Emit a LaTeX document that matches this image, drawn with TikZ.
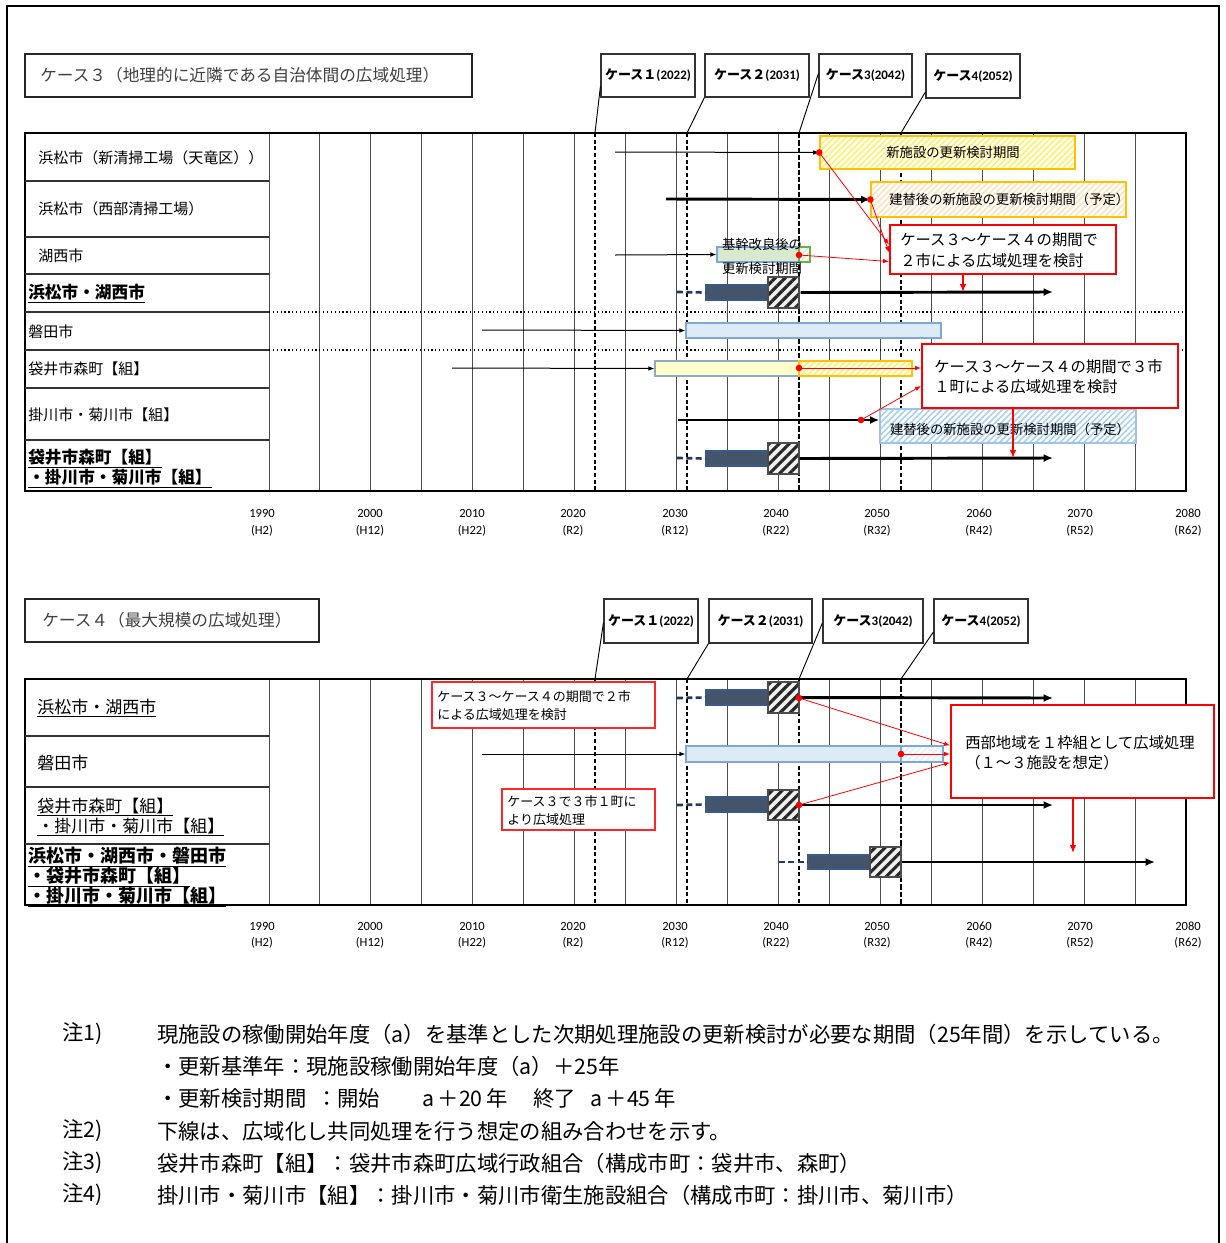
\documentclass[tikz,border=0pt]{standalone}
\usepackage{fontspec}
\setmainfont{Noto Sans CJK JP}
\newfontfamily\calfont{Carlito}
\usetikzlibrary{patterns.meta,fit,arrows.meta,calc}
\newcommand\fsz[2]{\fontsize{#1}{#2}\selectfont}
\definecolor{darkbar}{HTML}{44546A}
\definecolor{barborder}{HTML}{3A5A8C}
\definecolor{navy}{HTML}{1F3864}
\definecolor{ltblue}{HTML}{DDEBF7}
\definecolor{ltblueb}{HTML}{7EA6D8}
\definecolor{ltyel}{HTML}{FFFFCC}
\definecolor{ltyelb}{HTML}{8EA9C8}
\definecolor{ybord}{HTML}{FFC000}
\definecolor{ystripe}{HTML}{FFF066}
\definecolor{ostripe}{HTML}{FCE3C0}
\definecolor{bstripe}{HTML}{A9D0EE}
\definecolor{bbord}{HTML}{9DC3E6}
\definecolor{grfill}{HTML}{D8E9CE}
\definecolor{grbord}{HTML}{70AD47}
\definecolor{hdrtext}{HTML}{404040}
\begin{document}
\begin{tikzpicture}[x=0.75pt,y=-0.75pt,
  gridln/.style={line width=0.75pt, draw=black!70},
  tbl/.style={line width=0.9pt, draw=black},
  casedash/.style={line width=0.9pt, dash pattern=on 3pt off 2pt},
  casedashb/.style={line width=1.4pt, dash pattern=on 4pt off 1.5pt},
  hdrbox/.style={draw=black!85, line width=1.3pt, inner sep=0pt, fill=white},
  casebox/.style={draw=black!80, line width=0.9pt, inner sep=0pt, fill=white},
  casetxt/.style={inner sep=0pt, font=\fsz{9.75}{11}\bfseries},
  leader/.style={line width=0.7pt},
  thinarr/.style={line width=0.75pt, -{Latex[length=4.5pt,width=3.5pt]}},
  thickarr/.style={line width=2.2pt, -{Latex[length=7pt,width=6pt]}},
  redarr/.style={line width=0.6pt, draw=red, -{Latex[length=4.5pt,width=3.5pt]}},
  redthick/.style={line width=1.9pt, draw=red, -{Latex[length=6pt,width=5pt]}},
  navydash/.style={line width=2pt, draw=navy, dash pattern=on 4.5pt off 2.5pt},
  dbar/.style={fill=darkbar, draw=barborder, line width=0.8pt, inner sep=0pt},
  hatchbox/.style={inner sep=0pt, draw=black!70, line width=0.8pt, preaction={fill=gray!12}, pattern={Lines[angle=45,distance=5.3pt,line width=2.3pt]}, pattern color=black!85},
  yhatch/.style={inner sep=0pt, draw=ybord, line width=1pt, preaction={fill=white}, pattern={Lines[angle=45,distance=3.2pt,line width=1.2pt]}, pattern color=ystripe},
  ohatch/.style={inner sep=0pt, draw=ybord, line width=1pt, preaction={fill=white}, pattern={Lines[angle=45,distance=3.2pt,line width=1.2pt]}, pattern color=ostripe},
  bhatch/.style={inner sep=0pt, draw=bbord, line width=1pt, preaction={fill=white}, pattern={Lines[angle=45,distance=3.2pt,line width=1.2pt]}, pattern color=bstripe},
  lbhatch/.style={inner sep=0pt, draw=ltblueb, line width=0.9pt, preaction={fill=ltblue!60}, pattern={Lines[angle=45,distance=3.2pt,line width=1.0pt]}, pattern color=white},
  ghatch/.style={inner sep=0pt, draw=grbord, line width=0.9pt, preaction={fill=white}, pattern={Lines[angle=45,distance=3.2pt,line width=1.0pt]}, pattern color=grfill},
  ltbluebox/.style={inner sep=0pt, fill=ltblue, draw=ltblueb, line width=0.9pt},
  ltyelbox/.style={inner sep=0pt, fill=ltyel, draw=ltyelb, line width=0.9pt},
  grbox/.style={inner sep=0pt, fill=grfill, draw=ltblueb, line width=0.9pt},
  redbox/.style={draw=red, line width=1.5pt, fill=white, inner sep=0pt},
  redsmall/.style={draw=red!85, line width=0.9pt, fill=white, inner sep=0pt},
  barlab/.style={font=\fsz{10}{12}, inner sep=0pt},
  rowlab/.style={anchor=west, inner sep=0pt, font=\fsz{11.25}{14}, align=left},
  rowlabb/.style={anchor=west, inner sep=0pt, font=\fsz{12.5}{13.5}\bfseries, align=left},
  rowlabc/.style={anchor=west, inner sep=0pt, font=\fsz{12.75}{15}, align=left},
  rowlabd/.style={anchor=west, inner sep=0pt, font=\fsz{13.5}{15}\bfseries, align=left},
  yrlab/.style={inner sep=0pt, font=\calfont\fsz{9.4}{11}},
  notetxt/.style={anchor=west, inner sep=0pt, font=\fsz{16}{18}},
]
\useasboundingbox (0,0) rectangle (1226,1243);
\fill[white] (0,0) rectangle (1226,1243);
% outer frame
\draw[line width=1.5pt] (7,1243) -- (7,6) -- (1219,6) -- (1219,1243);

% ================= TOP CHART =================
\foreach \i in {0,...,18} {
  \pgfmathsetmacro\gx{269+\i*50.9444}
  \draw[gridln] (\gx,133) -- (\gx,491);
  \draw[gridln] (\gx,679) -- (\gx,905);
}
\draw[tbl] (25,133) rectangle (1186,491);
\foreach \yy in {181,237,274,312,350,388,440} \draw[line width=0.9pt, draw=black!80] (25,\yy) -- (269,\yy);
\draw[line width=0.9pt, dotted] (269,312) -- (1186,312);
\draw[line width=0.9pt, dotted] (269,350) -- (1186,350);

% case dashed lines (top)
\coordinate (k1t) at (595,133); \coordinate (k1b) at (595,491);
\coordinate (k2t) at (687,133); \coordinate (k2b) at (687,491);
\coordinate (k3t) at (799,133); \coordinate (k3b) at (799,491);
\coordinate (k4t) at (901,133); \coordinate (k4b) at (901,491);
\draw[casedash] (k1t) -- (k1b);
\draw[casedash] (k2t) -- (k2b);
\draw[casedashb] (k3t) -- (k3b);
\draw[casedash] (k4t) -- (k4b);

% header and case boxes (top)
\node[hdrbox, fit={(25,54)(472,97)}] (h3) {};
\node[anchor=west, inner sep=0pt, font=\fsz{12.5}{14}, text=hdrtext] (h3t) at (40,75.5) {ケース３（地理的に近隣である自治体間の広域処理）};
\node[casebox, fit={(601,54)(695,97)}] (c1) {};
\node[casebox, fit={(705,54)(809,97)}] (c2) {};
\node[casebox, fit={(819,54)(912,97)}] (c3) {};
\node[casebox, fit={(926,54)(1020,98)}] (c4) {};
\node[casetxt] (c1t) at (c1.center) {ケース１\calfont(2022)};
\node[casetxt] (c2t) at (c2.center) {ケース２\calfont(2031)};
\node[casetxt] (c3t) at (c3.center) {ケース\calfont 3(2042)};
\node[casetxt] (c4t) at (c4.center) {ケース\calfont 4(2052)};
\draw[leader] ($(c1.west)+(0,11)$) -- (k1t);
\draw[leader] (c2.south west) -- (k2t);
\draw[leader] ($(c3.west)+(0,-2)$) -- (k3t);
\draw[leader] ($(c4.west)+(0,16)$) -- (k4t);

% row labels (top)
\node[rowlab] (l1) at (38,158) {浜松市（新清掃工場（天竜区））};
\node[rowlab] (l2) at (38,209) {浜松市（西部清掃工場）};
\node[rowlab] (l3) at (38,256) {湖西市};
\node[rowlabb] (l4) at (28,294) {\underline{浜松市・湖西市}};
\node[rowlab] (l5) at (28,332) {磐田市};
\node[rowlab] (l6) at (28,369) {袋井市森町【組】};
\node[rowlab] (l7) at (28,415) {掛川市・菊川市【組】};
\node[rowlabb] (l8) at (28,469) {\underline{袋井市森町【組】}\\\underline{・掛川市・菊川市【組】}};

% row 1
\coordinate (a1s) at (615,152);
\node[yhatch, fit={(820,136)(1075,169)}] (y1) {};
\node[barlab] (y1t) at (953,152.5) {新施設の更新検討期間};
\draw[thinarr] (a1s) -- (y1.west);
% row 2
\coordinate (a2s) at (666,199);
\node[ohatch, fit={(871,182)(1126,217)}] (o2) {};
\node[barlab, anchor=west] (o2t) at (889,199) {建替後の新施設の更新検討期間（予定）};
\draw[thickarr] (a2s) -- (o2.west);
% row 3
\coordinate (a3s) at (615,255);
\node[grbox, fit={(717,247)(799,262)}] (g3) {};
\node[ghatch, fit={(799,247)(810,262)}] (g3h) {};
\draw[thinarr] (a3s) -- (g3.west);
\node[barlab] (g3a) at (762,244) {基幹改良後の};
\node[barlab] (g3b) at (762,268) {更新検討期間};
% row 4
\node[dbar, fit={(706,285)(768,300)}] (d4) {};
\node[hatchbox, fit={(768,277)(799,308)}] (h4) {};
\coordinate (d4s) at (677,292);
\coordinate (d4e) at (1053,292);
\draw[navydash] (d4s) -- (d4.west);
\draw[thickarr] (h4.east) -- (d4e);
% row 5
\coordinate (a5s) at (482,330);
\node[ltbluebox, fit={(686,323)(941,338)}] (lb5) {};
\draw[thinarr] (a5s) -- (lb5.west);
% row 6
\coordinate (a6s) at (452,368);
\node[ltyelbox, fit={(655,361)(799,376)}] (ly6) {};
\node[yhatch, fit={(799,361)(912,376)}] (yh6) {};
\draw[thinarr] (a6s) -- (ly6.west);
% row 7
\coordinate (a7s) at (678,420);
\node[bhatch, fit={(880,409)(1136,443)}] (bh7) {};
\node[barlab] (bh7t) at (1010,429) {建替後の新施設の更新検討期間（予定）};
\draw[thickarr] (a7s) -- (a7s -| bh7.west);
\coordinate (p7) at (861,420);
% row 8
\node[dbar, fit={(706,451)(768,466)}] (d8) {};
\node[hatchbox, fit={(768,443)(799,474)}] (h8) {};
\coordinate (d8s) at (677,458);
\coordinate (d8e) at (1053,458);
\draw[navydash] (d8s) -- (d8.west);
\draw[thickarr] (h8.east) -- (d8e);

% red boxes (top)
\node[redbox, fit={(890,225)(1116,274)}] (r1) {};
\node[anchor=west, inner sep=0pt, font=\fsz{11.5}{15.75}, align=left] (r1t) at (900,250) {ケース３～ケース４の期間で\\２市による広域処理を検討};
\node[redbox, fit={(922,344)(1178,408)}] (r2) {};
\node[anchor=west, inner sep=0pt, font=\fsz{11.5}{15}, align=left] (r2t) at (934,377) {ケース３～ケース４の期間で３市\\１町による広域処理を検討};

% red connectors (top)
\coordinate (g3p) at (799,255);
\coordinate (y6p) at (799,368);
\draw[redarr] (y1.west) -- ($(r1.west)+(0,-5)$);
\draw[redarr] (o2.west) -- ($(r1.west)+(0,3)$);
\draw[redarr] (g3p) -- ($(r1.west)+(0,12)$);
\draw[redarr] (y6p) -- ($(r2.west)+(0,-8)$);
\draw[redarr] (p7) -- ($(r2.west)+(0,10)$);
\coordinate (r1e) at (963,292);
\coordinate (r2e) at (1013,458);
\draw[redthick] (r1.south -| r1e) -- (r1e);
\draw[redthick] (r2.south -| r2e) -- (r2e);
\foreach \p in {y1.west,o2.west,g3p,y6p,p7} \fill[red] (\p) circle (3.3);

% year labels
\foreach \yr/\er/\xx [count=\k] in {1990/H2/262,2000/H12/370,2010/H22/472,2020/R2/573,2030/R12/675,2040/R22/776,2050/R32/877,2060/R42/979,2070/R52/1080,2080/R62/1188} {
  \node[yrlab] (ya\k) at (\xx,513) {\yr};
  \node[yrlab] (yb\k) at (\xx,531) {(\er)};
  \node[yrlab] (yc\k) at (\xx,926) {\yr};
  \node[yrlab] (yd\k) at (\xx,943) {(\er)};
}

% ================= BOTTOM CHART =================
\draw[tbl] (25,679) rectangle (1186,905);
\foreach \yy in {736,787,844} \draw[line width=0.9pt, draw=black!80] (25,\yy) -- (269,\yy);

\coordinate (m1t) at (595,679); \coordinate (m1b) at (595,905);
\coordinate (m2t) at (687,679); \coordinate (m2b) at (687,905);
\coordinate (m3t) at (799,679); \coordinate (m3b) at (799,905);
\coordinate (m4t) at (901,679); \coordinate (m4b) at (901,905);
\draw[casedash] (m1t) -- (m1b);
\draw[casedash] (m2t) -- (m2b);
\draw[casedash] (m3t) -- (m3b);
\draw[casedashb] (m4t) -- (m4b);

\node[hdrbox, fit={(25,599)(319,642)}] (h4b) {};
\node[anchor=west, inner sep=0pt, font=\fsz{12.5}{14}, text=hdrtext] (h4bt) at (42,620.5) {ケース４（最大規模の広域処理）};
\node[casebox, fit={(604,599)(698,643)}] (e1) {};
\node[casebox, fit={(709,599)(812,643)}] (e2) {};
\node[casebox, fit={(823,599)(923,643)}] (e3) {};
\node[casebox, fit={(934,599)(1028,643)}] (e4) {};
\node[casetxt] (e1t) at (e1.center) {ケース１\calfont(2022)};
\node[casetxt] (e2t) at (e2.center) {ケース２\calfont(2031)};
\node[casetxt] (e3t) at (e3.center) {ケース\calfont 3(2042)};
\node[casetxt] (e4t) at (e4.center) {ケース\calfont 4(2052)};
\draw[leader] ($(e1.west)+(0,2)$) -- (m1t);
\draw[leader] (e2.south west) -- (m2t);
\draw[leader] ($(e3.west)+(0,2)$) -- (m3t);
\draw[leader] ($(e4.west)+(0,11)$) -- (m4t);

\node[rowlabc] (n1) at (37,708) {\underline{浜松市・湖西市}};
\node[rowlabc] (n2) at (37,763) {磐田市};
\node[rowlabc] (n3) at (37,817) {\underline{袋井市森町【組】}\\\underline{・掛川市・菊川市【組】}};
\node[rowlabd] (n4) at (28,877) {\underline{浜松市・湖西市・磐田市}\\\underline{・袋井市森町【組】}\\\underline{・掛川市・菊川市【組】}};

% small red boxes
\node[redsmall, fit={(432,682)(655,728)}] (s1) {};
\node[anchor=west, inner sep=0pt, font=\fsz{9.75}{13.5}, align=left] (s1t) at (437,706) {ケース３～ケース４の期間で２市\\による広域処理を検討};
\node[redsmall, fit={(502,789)(655,830)}] (s2) {};
\node[anchor=west, inner sep=0pt, font=\fsz{9.75}{13.5}, align=left] (s2t) at (507,811) {ケース３で３市１町に\\より広域処理};

% row 1
\node[dbar, fit={(706,690)(768,705)}] (f1) {};
\node[hatchbox, fit={(768,682)(799,713)}] (fh1) {};
\coordinate (f1s) at (677,698); \coordinate (f1e) at (1053,698);
\draw[navydash] (f1s) -- (f1.west);
\draw[thickarr] (fh1.east) -- (f1e);
% row 2
\coordinate (f2s) at (482,754);
\node[ltbluebox, fit={(686,746)(901,762)}] (f2) {};
\node[lbhatch, fit={(901,746)(943,762)}] (fh2) {};
\draw[thinarr] (f2s) -- (f2.west);
% row 3
\node[dbar, fit={(706,797)(768,812)}] (f3) {};
\node[hatchbox, fit={(768,790)(799,820)}] (fh3) {};
\coordinate (f3s) at (677,805); \coordinate (f3e) at (1053,805);
\draw[navydash] (f3s) -- (f3.west);
\draw[thickarr] (fh3.east) -- (f3e);
% row 4
\node[dbar, fit={(808,855)(870,869)}] (f4) {};
\node[hatchbox, fit={(870,847)(901,877)}] (fh4) {};
\coordinate (f4s) at (779,862); \coordinate (f4e) at (1155,862);
\draw[navydash] (f4s) -- (f4.west);
\draw[thickarr] (fh4.east) -- (f4e);

% big red box (bottom)
\node[redbox, fit={(951,705)(1214,798)}] (r3) {};
\node[anchor=west, inner sep=0pt, font=\fsz{11.5}{15}, align=left] (r3t) at (965,753) {西部地域を１枠組として広域処理\\（１～３施設を想定）};
\coordinate (q1) at (799,698);
\coordinate (q2) at (901,754);
\coordinate (q3) at (799,805);
\draw[redarr] (q1) -- ($(r3.west)+(0,-6)$);
\draw[redarr] (q2) -- ($(r3.west)+(0,2.5)$);
\draw[redarr] (q3) -- ($(r3.west)+(0,11)$);
\coordinate (r3e) at (1073,853);
\draw[redthick] (r3.south -| r3e) -- (r3e);
\foreach \p in {q1,q2,q3} \fill[red] (\p) circle (3.3);

% ================= NOTES =================
\node[notetxt] (t1) at (62,1034) {注1)};
\node[notetxt] (t1b) at (157,1034) {現施設の稼働開始年度（a）を基準とした次期処理施設の更新検討が必要な期間（25年間）を示している。};
\node[notetxt] (t2b) at (157,1066) {・更新基準年：現施設稼働開始年度（a）＋25年};
\node[notetxt] (t3a) at (157,1098) {・更新検討期間};
\node[notetxt] (t3b) at (316,1098) {：開始};
\node[notetxt] (t3c) at (422,1098) {a\,＋20\,年};
\node[notetxt] (t3d) at (533,1098) {終了};
\node[notetxt] (t3e) at (590,1098) {a\,＋45\,年};
\node[notetxt] (t4) at (62,1131) {注2)};
\node[notetxt] (t4b) at (157,1131) {下線は、広域化し共同処理を行う想定の組み合わせを示す。};
\node[notetxt] (t5) at (62,1163) {注3)};
\node[notetxt] (t5b) at (157,1163) {袋井市森町【組】：袋井市森町広域行政組合（構成市町：袋井市、森町）};
\node[notetxt] (t6) at (62,1195) {注4)};
\node[notetxt] (t6b) at (157,1195) {掛川市・菊川市【組】：掛川市・菊川市衛生施設組合（構成市町：掛川市、菊川市）};
\end{tikzpicture}
\end{document}
